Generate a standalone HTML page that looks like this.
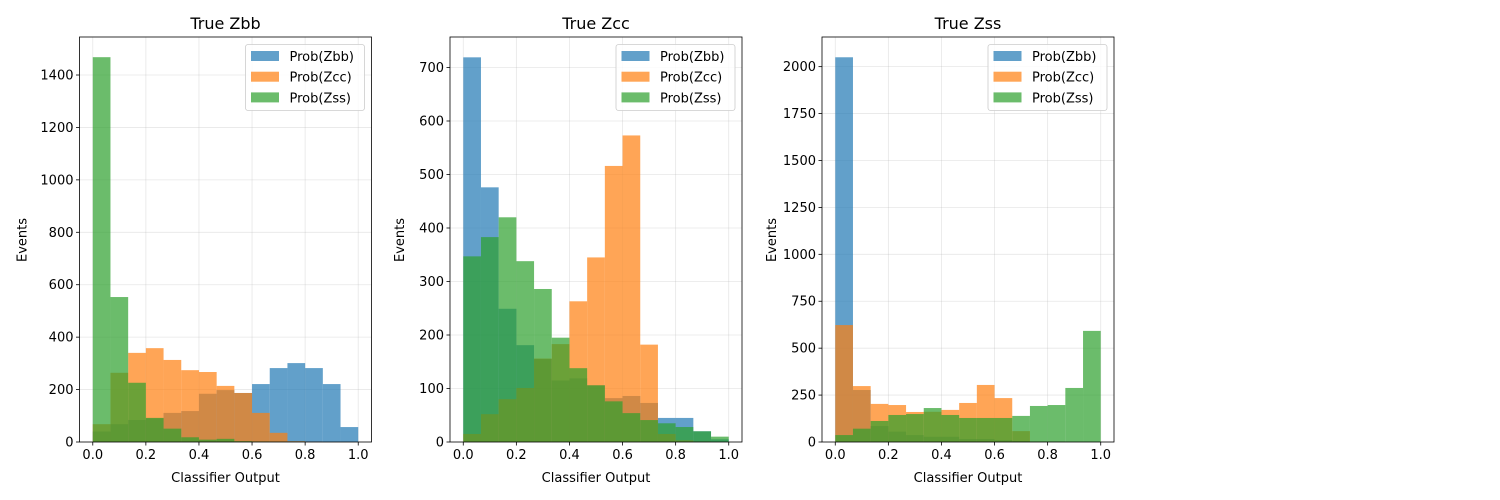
<!DOCTYPE html>
<html><head><meta charset="utf-8"><style>
html,body{margin:0;padding:0;background:#fff;width:1500px;height:500px;overflow:hidden}
svg{font-family:"DejaVu Sans","Liberation Sans",sans-serif}
</style></head><body>
<svg id="chart" width="1500" height="500" viewBox="0 0 1500 500" xmlns="http://www.w3.org/2000/svg"></svg>
<script>
const binEdgesCount = 15;
const seriesNames = ["Prob(Zbb)", "Prob(Zcc)", "Prob(Zss)"];
const panelTitles = ["True Zbb", "True Zcc", "True Zss"];
const xTicks = [0.0, 0.2, 0.4, 0.6, 0.8, 1.0];
const xTickLabels = ["0.0", "0.2", "0.4", "0.6", "0.8", "1.0"];
const yTicks1 = [0, 200, 400, 600, 800, 1000, 1200, 1400];
const yTicks2 = [0, 100, 200, 300, 400, 500, 600, 700];
const yTicks3 = [0, 250, 500, 750, 1000, 1250, 1500, 1750, 2000];
const yMax = [1545, 757, 2158];
const zbb1 = [40,68,84,90,111,118,184,198,187,221,282,301,282,221,57];
const zcc1 = [68,264,340,358,313,274,267,214,187,111,35,3,1,0,0];
const zss1 = [1468,553,226,92,51,18,9,12,3,2,1,1,0,0,0];
const zbb2 = [719,476,249,181,155,115,119,106,82,86,73,45,45,20,5];
const zcc2 = [15,52,80,101,156,183,263,345,516,573,182,15,3,1,0];
const zss2 = [347,383,420,338,286,195,138,106,76,54,41,35,28,20,10];
const zbb3 = [2050,277,85,55,37,28,28,16,16,10,5,3,2,1,1];
const zcc3 = [623,298,203,197,160,161,171,208,304,234,58,2,1,0,0];
const zss3 = [37,71,112,144,149,181,144,128,128,128,139,192,197,288,592];

const colors = ["#1f77b4", "#ff7f0e", "#2ca02c"];
const NS = "http://www.w3.org/2000/svg";
const svg = document.getElementById("chart");
function mk(tag, attrs, parent) {
  const e = document.createElementNS(NS, tag);
  for (const k in attrs) e.setAttribute(k, attrs[k]);
  (parent || svg).appendChild(e);
  return e;
}
const panels = [
  {left: 79.5, series: [zbb1, zcc1, zss1], yt: yTicks1},
  {left: 450, series: [zbb2, zcc2, zss2], yt: yTicks2},
  {left: 822, series: [zbb3, zcc3, zss3], yt: yTicks3}
];
const W = 292, TOP = 37, BOT = 442;
panels.forEach((p, pi) => {
  const g = mk("g", {});
  
  
  const xs = v => p.left + (v + 0.05) / 1.1 * W;
  const ys = v => BOT - v / yMax[pi] * (BOT - TOP);
  xTicks.forEach(t => { const l = mk("line", {x1: xs(t), x2: xs(t), y1: TOP, y2: BOT, stroke: "#b0b0b0", "stroke-opacity": 0.3, "stroke-width": 0.8}, g);
      });
  p.yt.forEach(t => { const l = mk("line", {x1: p.left, x2: p.left + W, y1: ys(t), y2: ys(t), stroke: "#b0b0b0", "stroke-opacity": 0.3, "stroke-width": 0.8}, g);
      });
  p.series.forEach((arr, si) => {
    arr.forEach((v, i) => {
      const x0 = xs(i / binEdgesCount), x1 = xs((i + 1) / binEdgesCount);
      const r = mk("rect", {x: x0, y: ys(v), width: x1 - x0, height: BOT - ys(v), fill: colors[si], "fill-opacity": 0.7}, g);
      
      
    });
  });
  const fr = mk("rect", {x: p.left, y: TOP, width: W, height: BOT - TOP, fill: "none", stroke: "#000", "stroke-width": 0.8}, g);
   
  xTicks.forEach((t, i) => {
    mk("line", {x1: xs(t), x2: xs(t), y1: BOT, y2: BOT + 3.5, stroke: "#000", "stroke-width": 0.8}, g);
    const tx = mk("text", {x: xs(t), y: BOT + 17, "font-size": 13, "text-anchor": "middle", fill: "#000"}, g);
    tx.textContent = xTickLabels[i];
     
  });
  p.yt.forEach(t => {
    mk("line", {x1: p.left - 3.5, x2: p.left, y1: ys(t), y2: ys(t), stroke: "#000", "stroke-width": 0.8}, g);
    const tx = mk("text", {x: p.left - 6, y: ys(t) + 4.5, "font-size": 13, "text-anchor": "end", fill: "#000"}, g);
    tx.textContent = String(t);
     
  });
  const ti = mk("text", {x: p.left + W / 2, y: 29, "font-size": 16, "text-anchor": "middle", fill: "#000"}, g);
  ti.textContent = panelTitles[pi];
   
  const xl = mk("text", {x: p.left + W / 2, y: 482, "font-size": 13, "text-anchor": "middle", fill: "#000"}, g);
  xl.textContent = "Classifier Output";
   
  const yx = p.left - (pi === 0 ? 53 : 46);
  const yl = mk("text", {x: yx, y: 240, "font-size": 13, "text-anchor": "middle", fill: "#000", transform: "rotate(-90 " + yx + " 240)"}, g);
  yl.textContent = "Events";
   
  const lg = mk("g", {}, g);
   
  const lx = p.left + W - 126;
  mk("rect", {x: lx, y: 44.5, width: 119, height: 66, rx: 2.5, fill: "#fff", "fill-opacity": 0.8, stroke: "#ccc", "stroke-width": 0.8}, lg);
  seriesNames.forEach((n, si) => {
    const yy = 56 + si * 20.7;
    const pt = mk("rect", {x: lx + 5.5, y: yy - 5, width: 28, height: 10, fill: colors[si], "fill-opacity": 0.7}, lg);
     
    const tx = mk("text", {x: lx + 44, y: yy + 5, "font-size": 13, fill: "#000"}, lg);
    tx.textContent = n;
     
  });
});
</script>
</body></html>
